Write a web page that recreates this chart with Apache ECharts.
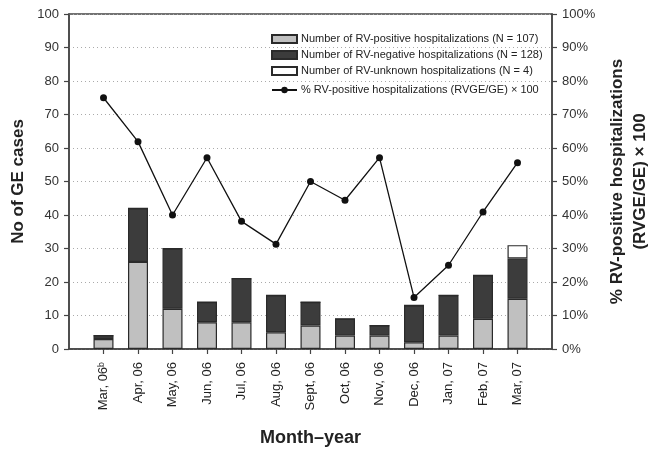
<!DOCTYPE html>
<html>
<head>
<meta charset="utf-8">
<script src="https://cdn.jsdelivr.net/npm/echarts@6/dist/echarts.min.js"></script>
<style>html,body{margin:0;padding:0;background:#fff}#c{width:659px;height:449px}</style>
</head>
<body>
<div id="c"></div>
<script>
var categories = ['Mar, 06\u1D47','Apr, 06','May, 06','Jun, 06','Jul, 06','Aug, 06','Sept, 06','Oct, 06','Nov, 06','Dec, 06','Jan, 07','Feb, 07','Mar, 07'];
var rvPositive = [3, 26, 12, 8, 8, 5, 7, 4, 4, 2, 4, 9, 15];
var rvNegative = [1, 16, 18, 6, 13, 11, 7, 5, 3, 11, 12, 13, 12];
var rvUnknown  = [0, 0, 0, 0, 0, 0, 0, 0, 0, 0, 0, 0, 4];
var pctPositive = [75, 61.9, 40, 57.1, 38.1, 31.3, 50, 44.4, 57.1, 15.4, 25, 40.9, 55.6];
var leftTicks = [0,10,20,30,40,50,60,70,80,90,100];
var rightTicks = ['0%','10%','20%','30%','40%','50%','60%','70%','80%','90%','100%'];

function pad(a){ return [null].concat(a, [null]); }
var axisCats = [''].concat(categories, ['']);
var FONT = 'Liberation Sans, Arial, sans-serif';
var chart = echarts.init(document.getElementById('c'), null, {renderer:'canvas'});
var barBorder = {borderColor:'#2a2a2a', borderWidth:1.2};
var legendText = {fontSize:11, color:'#222', fontFamily:FONT, lineHeight:12, padding:[0,0,0,-1]};
chart.setOption({
  animation:false,
  textStyle:{fontFamily:FONT},
  grid:{left:69, right:107, top:14, bottom:100, containLabel:false, outerBoundsMode:'none',
    show:true, borderColor:'#444', borderWidth:1.5, backgroundColor:'transparent'},
  legend:[{
    data:['Number of RV-positive hospitalizations (N = 107)','Number of RV-negative hospitalizations (N = 128)','Number of RV-unknown hospitalizations (N = 4)'],
    icon:'rect', orient:'vertical', left:266, top:28, itemWidth:25, itemHeight:8, itemGap:4,
    textStyle:legendText
  },{
    data:['% RV-positive hospitalizations (RVGE/GE) \u00D7 100'],
    orient:'vertical', left:266, top:79, itemWidth:25, itemHeight:8,
    textStyle:legendText
  }],
  xAxis:{
    type:'category', data:axisCats, boundaryGap:false,
    name:'Month\u2013year', nameLocation:'middle', nameGap:80,
    nameTextStyle:{fontSize:18, fontWeight:'bold', color:'#222', fontFamily:FONT},
    axisLine:{lineStyle:{color:'#444', width:1.5}},
    axisTick:{length:5, lineStyle:{color:'#444', width:1.2}, interval:function(i){ return i>0 && i<axisCats.length-1; }},
    axisLabel:{rotate:90, interval:0, fontSize:13, color:'#222', margin:13, fontFamily:FONT},
    splitLine:{show:false}
  },
  yAxis:[{
    type:'value', min:0, max:100, interval:10, position:'left',
    name:'No of GE cases', nameLocation:'middle', nameGap:33, nameRotate:90,
    nameTextStyle:{fontSize:17, fontWeight:'bold', color:'#222', fontFamily:FONT},
    axisLine:{show:true, lineStyle:{color:'#444', width:1.5}},
    axisTick:{show:true, length:5, lineStyle:{color:'#444', width:1.2}},
    axisLabel:{fontSize:13, color:'#333', margin:10, fontFamily:FONT,
      formatter:function(v){ var i = leftTicks.indexOf(v); return i>=0 ? String(leftTicks[i]) : ''; }},
    splitLine:{show:true, lineStyle:{color:'#aaa', type:[1,3], width:1}}
  },{
    type:'value', min:0, max:100, interval:10, position:'right',
    name:'% RV-positive hospitalizations\n(RVGE/GE) \u00D7 100', nameLocation:'middle', nameGap:53, nameRotate:90,
    nameTextStyle:{fontSize:17, fontWeight:'bold', color:'#222', fontFamily:FONT, lineHeight:23},
    axisLine:{show:true, lineStyle:{color:'#444', width:1.5}},
    axisTick:{show:true, length:5, lineStyle:{color:'#444', width:1.2}},
    axisLabel:{fontSize:13, color:'#333', margin:10, fontFamily:FONT,
      formatter:function(v){ return rightTicks[Math.round(v/10)]; }},
    splitLine:{show:false}
  }],
  series:[{
    name:'Number of RV-positive hospitalizations (N = 107)', type:'bar', stack:'a', barWidth:20,
    data:pad(rvPositive), itemStyle:Object.assign({color:'#c0c0c0'}, barBorder)
  },{
    name:'Number of RV-negative hospitalizations (N = 128)', type:'bar', stack:'a', barWidth:20,
    data:pad(rvNegative), itemStyle:Object.assign({color:'#3c3c3c'}, barBorder)
  },{
    name:'Number of RV-unknown hospitalizations (N = 4)', type:'bar', stack:'a', barWidth:20,
    data:pad(rvUnknown), itemStyle:Object.assign({color:'#ffffff'}, barBorder)
  },{
    name:'% RV-positive hospitalizations (RVGE/GE) \u00D7 100', type:'line', yAxisIndex:1,
    data:pad(pctPositive), symbol:'circle', symbolSize:7, z:5,
    lineStyle:{color:'#111', width:1.3}, itemStyle:{color:'#111'}
  }]
});
</script>
</body>
</html>
